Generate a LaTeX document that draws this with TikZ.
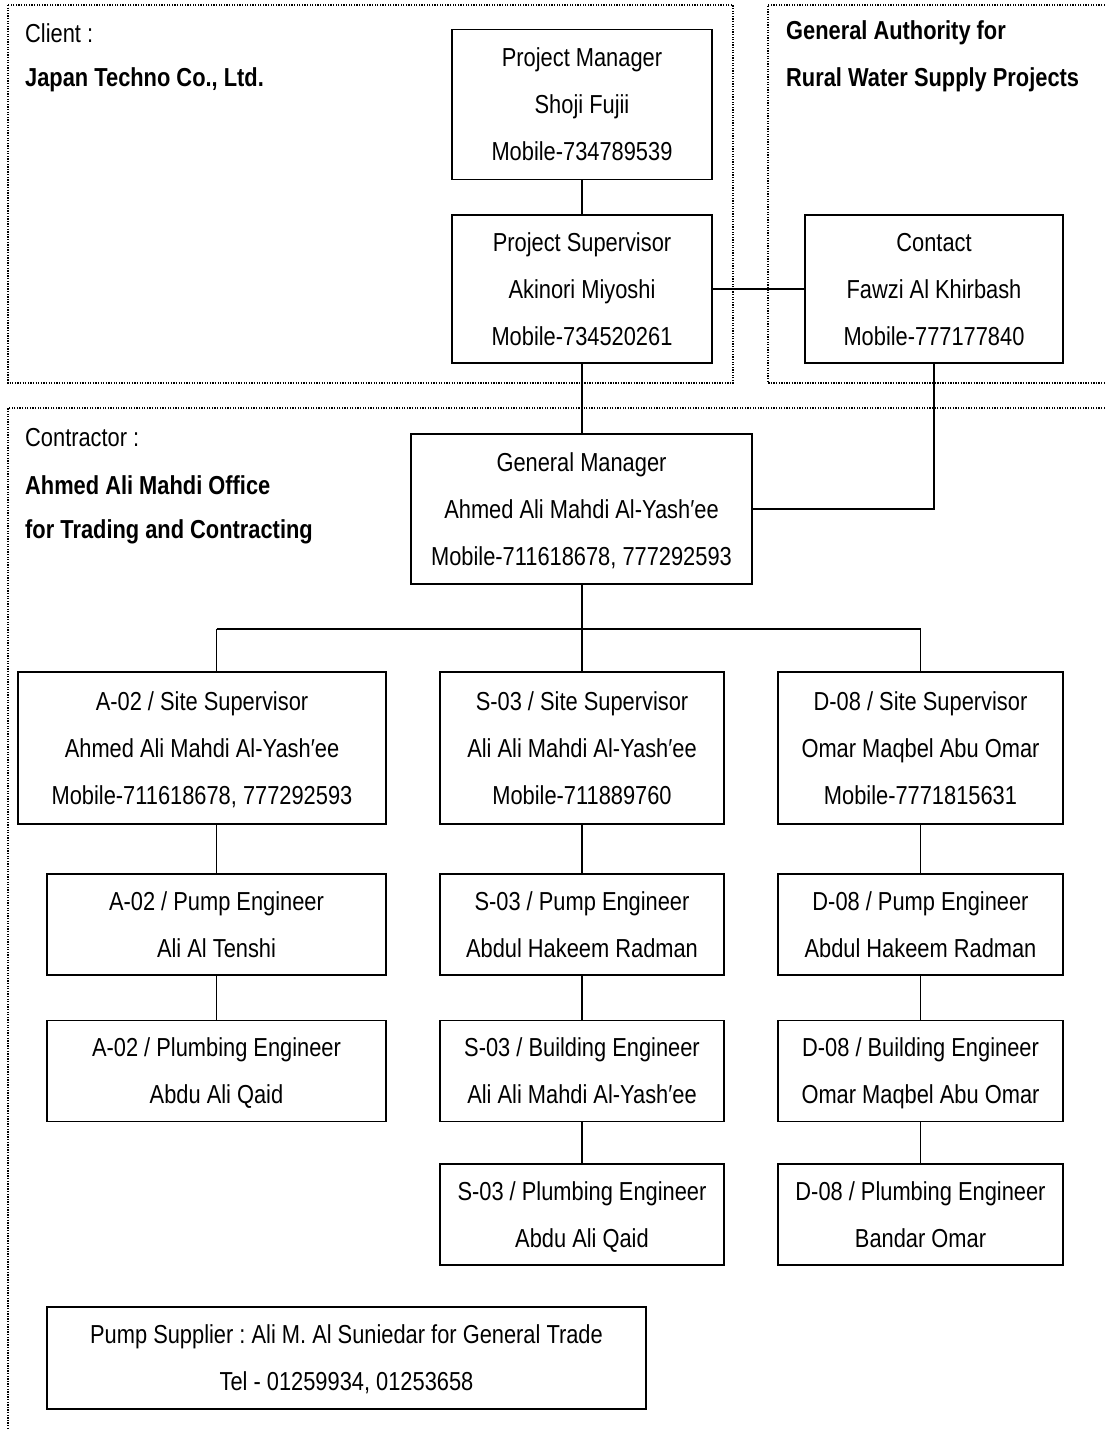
\documentclass[tikz,border=0pt]{standalone}
\usepackage{fontspec}
\setmainfont{Liberation Sans}[FakeStretch=0.84]
\newcommand\zs{\rule[-6pt]{0pt}{30pt}}
\newcommand\pr{{\char"2032}}
\begin{document}
\frenchspacing
\begin{tikzpicture}[x=1pt,y=-1pt,
  every node/.style={font=\fontsize{26}{47}\selectfont},
  orgbox/.style={draw,line width=1.5pt,align=center,inner sep=0pt},
  three/.style={orgbox,minimum height=150pt},
  two/.style={orgbox,minimum height=101pt},
  link/.style={line width=1.5pt},
  zone/.style={line width=1.3pt,dash pattern=on 1.3pt off 1.3pt},
  lbl/.style={anchor=west,inner sep=0pt}]
\useasboundingbox (0,0) rectangle (1104,1429);
% zones
\draw[zone] (8,5) rectangle (733,383);
\draw[zone] (1110,5) -- (768,5) -- (768,383) -- (1110,383);
\draw[zone] (1110,408) -- (8,408) -- (8,1440);
% zone labels
\node[lbl] (cl1) at (25,33) {Client :};
\node[lbl] (cl2) at (25,80) {\bfseries Japan Techno Co., Ltd.};
\node[lbl] (ga1) at (786,33) {\bfseries General Authority for};
\node[lbl] (ga2) at (786,80) {\bfseries Rural Water Supply Projects};
\node[lbl] (co1) at (25,438) {Contractor :};
\node[lbl] (co2) at (25,485) {\bfseries Ahmed Ali Mahdi Office};
\node[lbl] (co3) at (25,532) {\bfseries for Trading and Contracting};
% boxes
\node[three,minimum width=260pt] (PM) at (582,104.5) {\zs Project Manager\\\zs Shoji Fujii\\\zs Mobile-734789539};
\node[three,minimum width=260pt,minimum height=148pt] (PS) at (582,289) {\zs Project Supervisor\\\zs Akinori Miyoshi\\\zs Mobile-734520261};
\node[three,minimum width=258pt,minimum height=148pt] (CT) at (934,289) {\zs Contact\\\zs Fawzi Al Khirbash\\\zs Mobile-777177840};
\node[three,minimum width=341pt] (GM) at (581.5,509) {\zs General Manager\\\zs Ahmed Ali Mahdi Al-Yash\pr ee\\\zs Mobile-711618678, 777292593};
% column A
\node[three,minimum width=368pt,minimum height=152pt] (A1) at (202,748) {\zs A-02 / Site Supervisor\\\zs Ahmed Ali Mahdi Al-Yash\pr ee\\\zs Mobile-711618678, 777292593};
\node[two,minimum width=339pt] (A2) at (216.5,924.5) {\zs A-02 / Pump Engineer\\\zs Ali Al Tenshi};
\node[two,minimum width=339pt] (A3) at (216.5,1071) {\zs A-02 / Plumbing Engineer\\\zs Abdu Ali Qaid};
% column S
\node[three,minimum width=284pt,minimum height=152pt] (S1) at (582,748) {\zs S-03 / Site Supervisor\\\zs Ali Ali Mahdi Al-Yash\pr ee\\\zs Mobile-711889760};
\node[two,minimum width=284pt] (S2) at (582,924.5) {\zs S-03 / Pump Engineer\\\zs Abdul Hakeem Radman};
\node[two,minimum width=284pt] (S3) at (582,1071) {\zs S-03 / Building Engineer\\\zs Ali Ali Mahdi Al-Yash\pr ee};
\node[two,minimum width=284pt] (S4) at (582,1214.5) {\zs S-03 / Plumbing Engineer\\\zs Abdu Ali Qaid};
% column D
\node[three,minimum width=285pt,minimum height=152pt] (D1) at (920.5,748) {\zs D-08 / Site Supervisor\\\zs Omar Maqbel Abu Omar\\\zs Mobile-7771815631};
\node[two,minimum width=285pt] (D2) at (920.5,924.5) {\zs D-08 / Pump Engineer\\\zs Abdul Hakeem Radman};
\node[two,minimum width=285pt] (D3) at (920.5,1071) {\zs D-08 / Building Engineer\\\zs Omar Maqbel Abu Omar};
\node[two,minimum width=285pt] (D4) at (920.5,1214.5) {\zs D-08 / Plumbing Engineer\\\zs Bandar Omar};
% supplier
\node[two,minimum width=599pt,minimum height=102pt] (SUP) at (346.5,1358) {\zs Pump Supplier : Ali M. Al Suniedar for General Trade\\\zs Tel - 01259934, 01253658};
% connectors
\coordinate (bus) at (582,629);
\draw[link] (PM) -- (PS);
\draw[link] (PS) -- (CT);
\draw[link] (PS.south) -- (PS.south |- GM.north);
\draw[link] (CT.south) |- (GM.east);
\draw[line width=2.8pt] (GM.south -| bus) -- (bus);
\draw[link] (A2.north |- bus) -- (D1.north |- bus);
\draw[link] (A2.north |- bus) -- (A2.north |- A1.north);
\draw[link] (bus) -- (S1.north);
\draw[link] (D1.north |- bus) -- (D1.north);
\draw[link] (A2.north |- A1.south) -- (A2.north);
\draw[link] (A2) -- (A3);
\draw[link] (S1) -- (S2);
\draw[link] (S2) -- (S3);
\draw[link] (S3) -- (S4);
\draw[link] (D1) -- (D2);
\draw[link] (D2) -- (D3);
\draw[link] (D3) -- (D4);
\end{tikzpicture}
\end{document}
